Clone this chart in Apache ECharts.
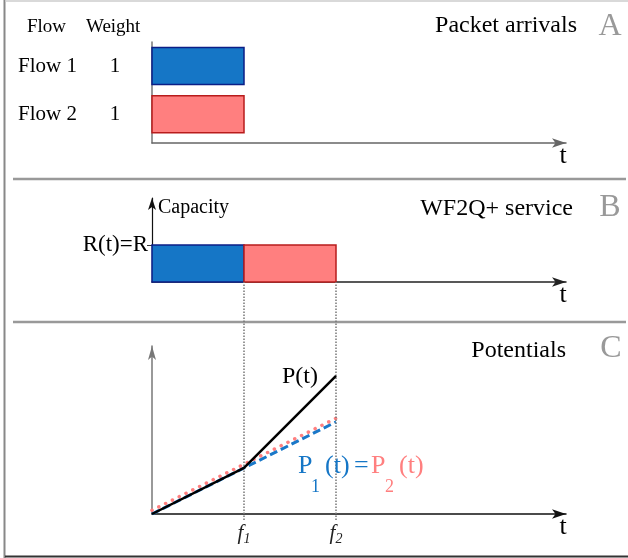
<!DOCTYPE html>
<html>
<head>
<meta charset="utf-8">
<script src="https://cdn.jsdelivr.net/npm/echarts@6/dist/echarts.min.js"></script>
<style>html,body{margin:0;padding:0;background:#fff}#c{width:628px;height:558px}</style>
</head>
<body>
<div id="c"></div>
<script>
// ---- data ----
const flows = ['Flow 1', 'Flow 2'];
const weights = [1, 1];
const arrivalStart = [0, 0];
const arrivalEnd = [1, 1];
const serviceStart = [0, 1];
const serviceEnd = [1, 2];
const capacityR = 1;
const potTimes = [0, 1, 2];
const potP = [0, 1, 3];
const potP1 = [0, 1, 2];
const potP2 = [0.08, 1.08, 2.08];
const finishTimes = [1, 2];
const finishLabels = ['1', '2'];
const panelTitles = ['Packet arrivals', 'WF2Q+ service', 'Potentials'];
const panelLetters = ['A', 'B', 'C'];

const SERIF = 'Liberation Serif';
const BLUE = '#1576c6', BLUE_EDGE = '#0b1e86';
const RED = '#ff7f7f', RED_EDGE = '#b81c1c';
const XMAX = 4.5;

const chart = echarts.init(document.getElementById('c'));

function xAx(grid, color, extra) {
  return Object.assign({
    type: 'value', gridIndex: grid, min: 0, max: XMAX, position: 'bottom',
    axisLine: { show: true, onZero: false, lineStyle: { color: color, width: 1.5 }, symbol: ['none', 'arrow'], symbolSize: [7, 14] },
    axisTick: { show: false }, axisLabel: { show: false }, splitLine: { show: false },
    name: 't', nameLocation: 'end', nameGap: -3,
    nameTextStyle: { fontFamily: SERIF, fontSize: 26, color: '#000', align: 'center', verticalAlign: 'top' }
  }, extra || {});
}

function txt(x, y, text, size, color, align, extra) {
  return Object.assign({ type: 'text', x: x, y: y, z: 10,
    style: { text: text, fontFamily: SERIF, fontSize: size, fill: color, align: align || 'left', verticalAlign: 'middle' } }, extra || {});
}

const arrivalData = flows.map((f, i) => [arrivalStart[i], arrivalEnd[i], i + 0.5, f, weights[i]]);
const serviceData = serviceStart.map((s, i) => [s, serviceEnd[i], capacityR, i]);

const option = {
  animation: false,
  textStyle: { fontFamily: SERIF },
  grid: [
    { left: 152, right: 628 - 566, top: 42, height: 101 },
    { left: 152, right: 628 - 566, top: 198, height: 84 },
    { left: 152, right: 628 - 566, top: 346, height: 168 },
    { left: 152, right: 628 - 566, top: 282, height: 238 }
  ],
  xAxis: [
    xAx(0, '#666'),
    xAx(1, '#222'),
    xAx(2, '#111', {
      axisLabel: {
        show: true, customValues: finishTimes, margin: 6,
        formatter: v => '{f|f}{s|' + finishLabels[finishTimes.indexOf(v)] + '}',
        rich: {
          f: { fontFamily: SERIF, fontStyle: 'italic', fontSize: 21, color: '#222' },
          s: { fontFamily: SERIF, fontStyle: 'italic', fontSize: 14, color: '#222', padding: [12, 0, 0, 0] }
        }
      }
    }),
    { type: 'value', gridIndex: 3, min: 0, max: XMAX, show: false }
  ],
  yAxis: [
    { type: 'value', gridIndex: 0, min: 0, max: 2.1, inverse: true,
      axisLine: { show: true, onZero: false, lineStyle: { color: '#777', width: 1.5 } },
      axisTick: { show: false }, axisLabel: { show: false }, splitLine: { show: false } },
    { type: 'value', gridIndex: 1, min: 0, max: 2.27,
      axisLine: { show: true, onZero: false, lineStyle: { color: '#111', width: 1.2 }, symbol: ['none', 'arrow'], symbolSize: [6, 12] },
      axisTick: { show: true, customValues: [capacityR], length: 5, lineStyle: { color: '#333' } },
      axisLabel: { show: true, customValues: [capacityR], margin: 4, formatter: () => 'R(t)=R',
        fontFamily: SERIF, fontSize: 23, color: '#000' },
      splitLine: { show: false },
      name: 'Capacity', nameLocation: 'end', nameGap: -10,
      nameTextStyle: { fontFamily: SERIF, fontSize: 20, color: '#000', align: 'left', verticalAlign: 'middle', padding: [0, 0, 0, 6] } },
    { type: 'value', gridIndex: 2, min: 0, max: 3.65,
      axisLine: { show: true, onZero: false, lineStyle: { color: '#777', width: 1.5 }, symbol: ['none', 'arrow'], symbolSize: [6, 14] },
      axisTick: { show: false }, axisLabel: { show: false }, splitLine: { show: false } },
    { type: 'value', gridIndex: 3, min: 0, max: 1, show: false }
  ],
  series: [
    {
      type: 'custom', xAxisIndex: 0, yAxisIndex: 0, data: arrivalData,
      renderItem: (params, api) => {
        const s = api.coord([api.value(0), api.value(2)]);
        const e = api.coord([api.value(1), api.value(2)]);
        const h = 37;
        const i = params.dataIndex;
        return { type: 'group', children: [
          { type: 'rect', shape: { x: s[0], y: s[1] - h / 2, width: e[0] - s[0], height: h },
            style: { fill: i === 0 ? BLUE : RED, stroke: i === 0 ? BLUE_EDGE : RED_EDGE, lineWidth: 1.5 } },
          { type: 'text', x: 18, y: s[1], style: { text: flows[i], fontFamily: SERIF, fontSize: 21, fill: '#000', align: 'left', verticalAlign: 'middle' } },
          { type: 'text', x: 115, y: s[1], style: { text: String(weights[i]), fontFamily: SERIF, fontSize: 21, fill: '#000', align: 'center', verticalAlign: 'middle' } }
        ] };
      }
    },
    {
      type: 'custom', xAxisIndex: 1, yAxisIndex: 1, data: serviceData, z: 1,
      renderItem: (params, api) => {
        const tl = api.coord([api.value(0), api.value(2)]);
        const br = api.coord([api.value(1), 0]);
        const i = params.dataIndex;
        return { type: 'rect', shape: { x: tl[0], y: tl[1], width: br[0] - tl[0], height: br[1] - tl[1] },
          style: { fill: i === 0 ? BLUE : RED, stroke: i === 0 ? BLUE_EDGE : RED_EDGE, lineWidth: 1.5 } };
      }
    },
    {
      type: 'line', xAxisIndex: 3, yAxisIndex: 3, data: [[0, 0]], symbol: 'none', lineStyle: { opacity: 0 },
      markLine: { silent: true, symbol: ['none', 'none'], label: { show: false },
        lineStyle: { type: 'dotted', color: '#777', width: 1.5 },
        data: finishTimes.map(t => ({ xAxis: t })) }
    },
    {
      type: 'line', xAxisIndex: 2, yAxisIndex: 2, symbol: 'none', z: 3,
      data: potTimes.map((t, i) => [t, potP2[i]]),
      lineStyle: { color: RED, width: 3.5, type: [0.1, 7.5], cap: 'round' }
    },
    {
      type: 'line', xAxisIndex: 2, yAxisIndex: 2, symbol: 'none', z: 4,
      data: potTimes.map((t, i) => [t, potP1[i]]),
      lineStyle: { color: '#1a78c8', width: 3, type: [8, 4] }
    },
    {
      type: 'line', xAxisIndex: 2, yAxisIndex: 2, symbol: 'none', z: 5,
      data: potTimes.map((t, i) => [t, potP[i]]),
      lineStyle: { color: '#000', width: 2.5 }
    }
  ],
  graphic: [
    { type: 'line', shape: { x1: 4.5, y1: 0, x2: 4.5, y2: 558 }, style: { stroke: '#888', lineWidth: 2 } },
    { type: 'line', shape: { x1: 5, y1: 1, x2: 628, y2: 1 }, style: { stroke: '#ccc', lineWidth: 1.5 } },
    { type: 'line', shape: { x1: 5, y1: 556.5, x2: 628, y2: 556.5 }, style: { stroke: '#333', lineWidth: 2 } },
    { type: 'line', shape: { x1: 13, y1: 179, x2: 626, y2: 179 }, style: { stroke: '#999', lineWidth: 2.5 } },
    { type: 'line', shape: { x1: 13, y1: 322, x2: 626, y2: 322 }, style: { stroke: '#999', lineWidth: 2.5 } },
    txt(27, 27, 'Flow', 19, '#000'),
    txt(86, 27, 'Weight', 19, '#000'),
    txt(577, 26, panelTitles[0], 24, '#000', 'right'),
    txt(573, 209, panelTitles[1], 24, '#000', 'right'),
    txt(566, 351, panelTitles[2], 24, '#000', 'right'),
    txt(610, 27, panelLetters[0], 32, '#999', 'center'),
    txt(610, 208, panelLetters[1], 32, '#999', 'center'),
    txt(611, 349, panelLetters[2], 32, '#999', 'center'),
    txt(318, 377, 'P(t)', 24, '#000', 'right'),
    txt(298, 466, 'P', 26, BLUE),
    txt(311, 487, '1', 18, BLUE),
    txt(325, 466, '(t)', 26, BLUE),
    txt(354, 466, '=', 26, BLUE),
    txt(371, 466, 'P', 26, RED),
    txt(385, 487, '2', 18, RED),
    txt(399, 466, '(t)', 26, RED)
  ]
};
chart.setOption(option);
</script>
</body>
</html>
